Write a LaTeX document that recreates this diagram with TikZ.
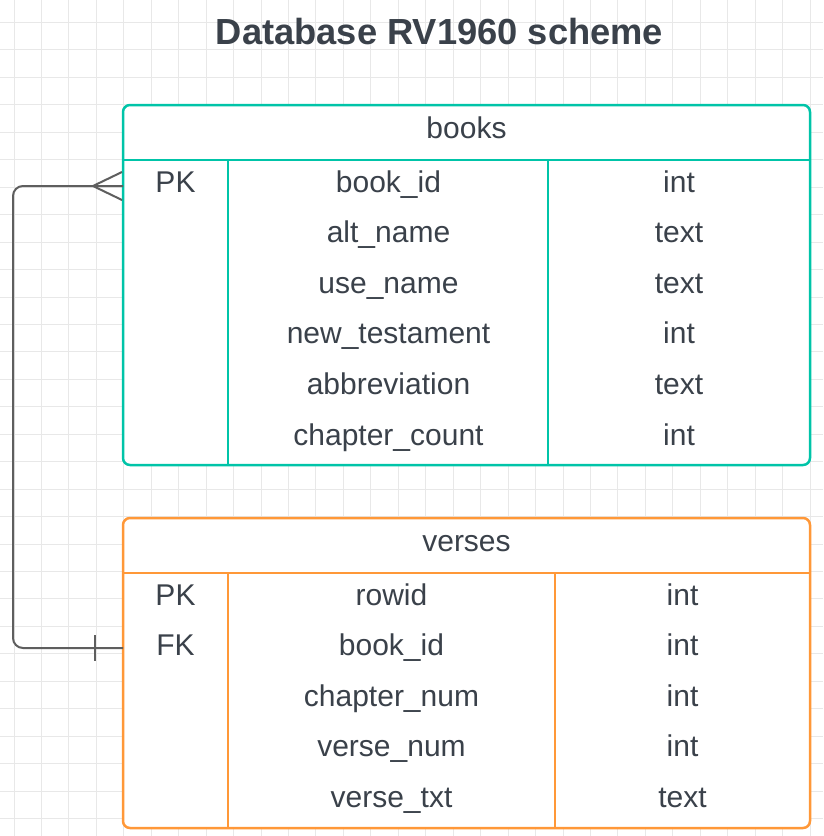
\documentclass[tikz,border=0pt]{standalone}
\usepackage{fontspec}
\setmainfont{Liberation Sans}
\usetikzlibrary{calc}
\definecolor{tealc}{RGB}{0,196,168}
\definecolor{orangec}{RGB}{255,152,56}
\definecolor{txtc}{RGB}{58,65,74}
\definecolor{gridc}{RGB}{232,232,232}
\definecolor{connc}{RGB}{94,94,94}
\tikzset{
  tbl/.style={draw=#1, line width=2.5pt, fill=white, rounded corners=7pt, rectangle, anchor=north west, outer sep=0pt, inner sep=0pt},
  sep/.style={draw=#1, line width=2.5pt},
  cell/.style={anchor=base, text=txtc, font=\fontsize{30}{35}\selectfont, inner sep=0pt},
  titletxt/.style={anchor=base, text=txtc, font=\bfseries\fontsize{36.3}{42}\selectfont, inner sep=0pt},
  conn/.style={draw=connc, line width=2pt},
  gridline/.style={draw=gridc, line width=1pt}
}
\begin{document}
\begin{tikzpicture}[x=1pt,y=-1pt]
\useasboundingbox (0,0) rectangle (823,836);
\fill[white] (0,0) rectangle (823,836);
% grid
\foreach \i in {0,...,29} {
  \draw[gridline] ({14+27.45*\i},0) -- ({14+27.45*\i},836);
}
\foreach \j in {0,...,30} {
  \draw[gridline] (0,{22.5+27.45*\j}) -- (823,{22.5+27.45*\j});
}
% title
\node[titletxt] (title) at (439.5,44) {Database RV1960 scheme};

% books table
\node[tbl=tealc, minimum width=687pt, minimum height=360pt] (books) at (123,105) {};
\coordinate (bhdr) at (0,160);
\coordinate (bc1) at (228,0);
\coordinate (bc2) at (548,0);
\draw[sep=tealc] (books.west |- bhdr) -- (books.east |- bhdr);
\draw[sep=tealc] (bc1 |- bhdr) -- (bc1 |- books.south);
\draw[sep=tealc] (bc2 |- bhdr) -- (bc2 |- books.south);
\node[cell] (bname) at (466.5,138.5) {books};
\node[cell] (bpk) at (175.5,192) {PK};
\node[cell] (b1) at (388.5,192) {book\_id};
\node[cell] (b1t) at (679,192) {int};
\node[cell] (b2) at (388.5,242.6) {alt\_name};
\node[cell] (b2t) at (679,242.6) {text};
\node[cell] (b3) at (388.5,293.2) {use\_name};
\node[cell] (b3t) at (679,293.2) {text};
\node[cell] (b4) at (388.5,343.8) {new\_testament};
\node[cell] (b4t) at (679,343.8) {int};
\node[cell] (b5) at (388.5,394.4) {abbreviation};
\node[cell] (b5t) at (679,394.4) {text};
\node[cell] (b6) at (388.5,445) {chapter\_count};
\node[cell] (b6t) at (679,445) {int};

% verses table
\node[tbl=orangec, minimum width=687pt, minimum height=310pt] (verses) at (123,518) {};
\coordinate (vhdr) at (0,573);
\coordinate (vc1) at (228,0);
\coordinate (vc2) at (555,0);
\draw[sep=orangec] (verses.west |- vhdr) -- (verses.east |- vhdr);
\draw[sep=orangec] (vc1 |- vhdr) -- (vc1 |- verses.south);
\draw[sep=orangec] (vc2 |- vhdr) -- (vc2 |- verses.south);
\node[cell] (vname) at (466.5,551.5) {verses};
\node[cell] (vpk) at (175.5,605) {PK};
\node[cell] (vfk) at (175.5,655.6) {FK};
\node[cell] (v1) at (391.5,605) {rowid};
\node[cell] (v1t) at (682.5,605) {int};
\node[cell] (v2) at (391.5,655.6) {book\_id};
\node[cell] (v2t) at (682.5,655.6) {int};
\node[cell] (v3) at (391.5,706.2) {chapter\_num};
\node[cell] (v3t) at (682.5,706.2) {int};
\node[cell] (v4) at (391.5,756.8) {verse\_num};
\node[cell] (v4t) at (682.5,756.8) {int};
\node[cell] (v5) at (391.5,807.4) {verse\_txt};
\node[cell] (v5t) at (682.5,807.4) {text};

% connector
\coordinate (bkrow) at (0,186);
\coordinate (fkrow) at (0,648);
\coordinate (lft) at (13,0);
\draw[conn, rounded corners=10pt] (verses.west |- fkrow) -| (lft |- bkrow) -- (books.west |- bkrow);
% crow's foot (many) at books
\draw[conn] ($(books.west |- bkrow)+(-30,0)$) -- ($(books.west |- bkrow)+(-1,-14)$);
\draw[conn] ($(books.west |- bkrow)+(-30,0)$) -- ($(books.west |- bkrow)+(-1,14)$);
% bar (one) at verses
\draw[conn] ($(verses.west |- fkrow)+(-28,-13)$) -- ($(verses.west |- fkrow)+(-28,13)$);
\end{tikzpicture}
\end{document}
